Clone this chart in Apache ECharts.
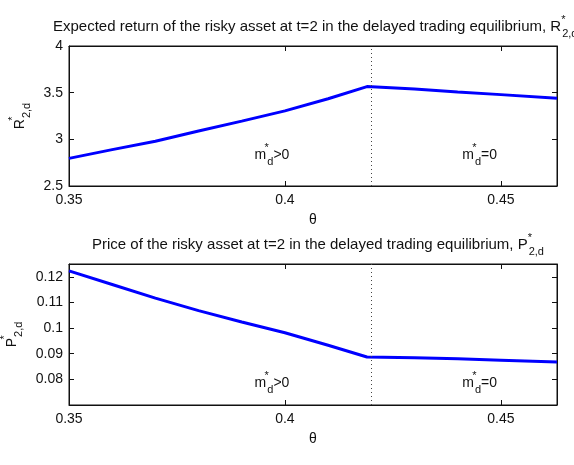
<!DOCTYPE html>
<html>
<head>
<meta charset="utf-8">
<script src="https://cdn.jsdelivr.net/npm/echarts@6/dist/echarts.min.js"></script>
<style>
  html, body { margin: 0; padding: 0; background: #fff; }
  #chart { width: 574px; height: 465px; }
</style>
</head>
<body>
<div id="chart"></div>
<script>
// theta grid and the two curves
const theta = [0.35, 0.36, 0.37, 0.38, 0.39, 0.40, 0.41, 0.419, 0.43, 0.44, 0.45, 0.463]
const returnR = [2.796, 2.89, 2.98, 3.09, 3.195, 3.305, 3.435, 3.565, 3.538, 3.508, 3.479, 3.44]
const priceP = [0.1223, 0.1170, 0.1117, 0.1068, 0.1024, 0.0982, 0.0933, 0.0887, 0.0884, 0.0880, 0.0875, 0.0868]
const thetaSwitch = 0.419
const regimeText = ['>0', '=0']
const regimeTheta = [0.397, 0.4451]
const regimeR = 2.83
const regimeP = 0.0786

const font = 'Liberation Sans, Arial, sans-serif'
const ink = '#111'

const chart = echarts.init(document.getElementById('chart'))

// rich text pieces: b = normal, s = superscript star, d = subscript
function richSet(size, subSize) {
  return {
    b: { fontSize: size, fontFamily: font, fontWeight: 'normal', color: ink, verticalAlign: 'middle', lineHeight: 16 },
    s: { fontSize: subSize, fontFamily: font, fontWeight: 'normal', color: ink, width: 1, verticalAlign: 'top', lineHeight: 25 },
    d: { fontSize: subSize, fontFamily: font, fontWeight: 'normal', color: ink, verticalAlign: 'bottom', lineHeight: 25 }
  }
}
const rich = richSet(14, 11)
const titleRich = richSet(15, 11)

function pairs(ys) {
  return theta.map((t, i) => [t, ys[i]])
}

function xAxes(gridIndex) {
  const base = {
    type: 'value', gridIndex: gridIndex,
    min: 0.35, max: 0.463, interval: 0.05,
    splitLine: { show: false },
    axisLine: { lineStyle: { color: ink, width: 1 } },
    axisTick: { inside: true, length: 5, lineStyle: { color: ink } }
  }
  return [
    Object.assign({}, base, {
      position: 'bottom',
      name: 'θ', nameLocation: 'middle', nameGap: 27,
      nameTextStyle: { fontSize: 14, fontFamily: font, color: ink },
      axisLabel: { fontSize: 14, fontFamily: font, color: ink, margin: 7, showMaxLabel: false }
    }),
    Object.assign({}, base, { position: 'top', axisLabel: { show: false } })
  ]
}

function yAxes(gridIndex, min, max, interval, name, hideEnds) {
  const base = {
    type: 'value', gridIndex: gridIndex,
    min: min, max: max, interval: interval,
    splitLine: { show: false },
    axisLine: { show: true, lineStyle: { color: ink, width: 1 } },
    axisTick: { show: true, inside: true, length: 5, lineStyle: { color: ink } }
  }
  return [
    Object.assign({}, base, {
      position: 'left',
      name: name, nameLocation: 'middle', nameGap: 34, nameRotate: 90,
      nameTextStyle: { rich: rich },
      axisLabel: {
        fontSize: 14, fontFamily: font, color: ink, margin: 6,
        showMinLabel: !hideEnds, showMaxLabel: !hideEnds
      }
    }),
    Object.assign({}, base, { position: 'right', axisLabel: { show: false } })
  ]
}

function regimePoints(y) {
  return regimeTheta.map((t, i) => ({
    coord: [t, y],
    symbolSize: 0,
    label: {
      show: true, position: 'inside',
      formatter: '{b|m}{s|*}{d|d}{b|' + regimeText[i] + '}',
      rich: rich
    }
  }))
}

const switchLine = {
  silent: true, symbol: 'none',
  label: { show: false },
  lineStyle: { type: [1, 3], color: '#444', width: 1 },
  data: [{ xAxis: thetaSwitch }]
}

const option = {
  animation: false,
  backgroundColor: '#fff',
  textStyle: { fontFamily: font },
  title: [
    {
      left: 48, top: 9,
      text: '{b|Expected return of the risky asset at t=2 in the delayed trading equilibrium, R}{s|*}{d|2,d}',
      textStyle: { fontWeight: 'normal', rich: titleRich }
    },
    {
      left: 87, top: 227,
      text: '{b|Price of the risky asset at t=2 in the delayed trading equilibrium, P}{s|*}{d|2,d}',
      textStyle: { fontWeight: 'normal', rich: titleRich }
    }
  ],
  grid: [
    { left: 69, right: 17, top: 46, height: 140, outerBoundsMode: 'none', show: true, borderColor: ink, borderWidth: 1, backgroundColor: '#fff' },
    { left: 69, right: 17, top: 264, height: 141, outerBoundsMode: 'none', show: true, borderColor: ink, borderWidth: 1, backgroundColor: '#fff' }
  ],
  xAxis: xAxes(0).concat(xAxes(1)),
  yAxis: yAxes(0, 2.5, 4, 0.5, '{b|R}{s|*}{d|2,d}', false)
    .concat(yAxes(1, 0.07, 0.125, 0.01, '{b|P}{s|*}{d|2,d}', true)),
  series: [
    {
      type: 'line', xAxisIndex: 0, yAxisIndex: 0,
      data: pairs(returnR),
      showSymbol: false, smooth: false,
      lineStyle: { color: '#0000ff', width: 3 },
      markLine: switchLine,
      markPoint: { symbol: 'circle', data: regimePoints(regimeR) }
    },
    {
      type: 'line', xAxisIndex: 2, yAxisIndex: 2,
      data: pairs(priceP),
      showSymbol: false, smooth: false,
      lineStyle: { color: '#0000ff', width: 3 },
      markLine: switchLine,
      markPoint: { symbol: 'circle', data: regimePoints(regimeP) }
    }
  ]
}

chart.setOption(option)
</script>
</body>
</html>
